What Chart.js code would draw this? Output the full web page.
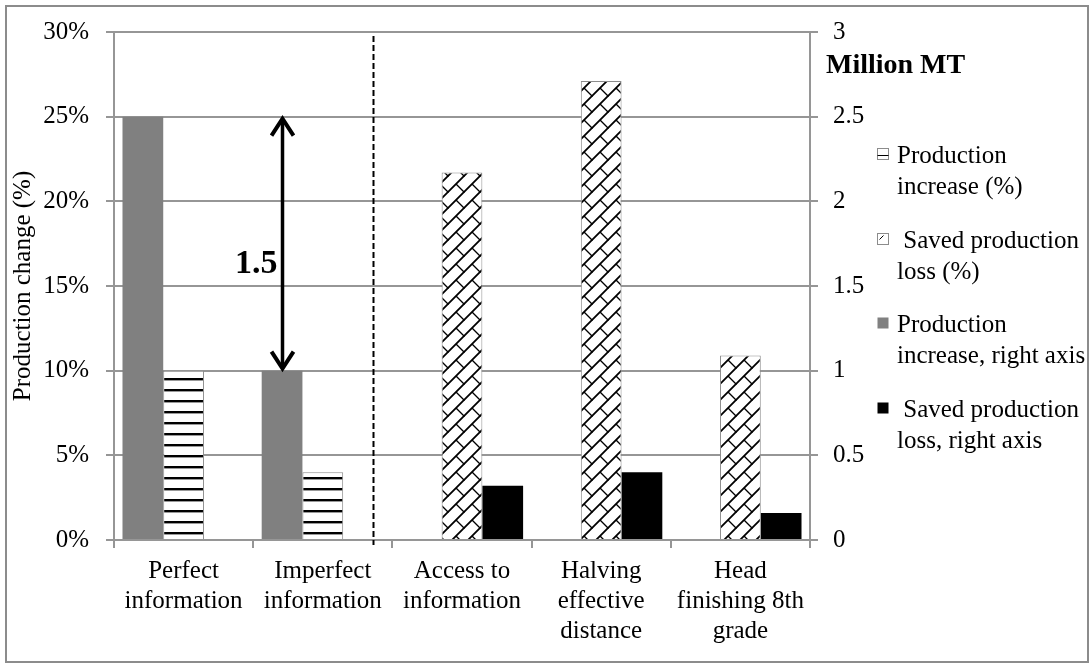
<!DOCTYPE html>
<html>
<head>
<meta charset="utf-8">
<script src="https://cdn.jsdelivr.net/npm/chart.js@4.4.1/dist/chart.umd.min.js"></script>
<style>
  html, body { margin: 0; padding: 0; background: #fff; }
  #wrap { position: relative; width: 1092px; height: 668px; }
</style>
</head>
<body>
<div id="wrap"><canvas id="chart"></canvas></div>
<script>
// categories and series
const categories = [
    ['Perfect', 'information'],
    ['Imperfect', 'information'],
    ['Access to', 'information'],
    ['Halving', 'effective', 'distance'],
    ['Head', 'finishing 8th', 'grade']
];
const prodIncreasePct = [10, 4, null, null, null];        // left axis, %
const savedLossPct = [null, null, 21.7, 27.1, 10.9];      // left axis, %
const prodIncreaseMT = [2.5, 1.0, null, null, null];      // right axis, million MT
const savedLossMT = [null, null, 0.32, 0.40, 0.16];       // right axis, million MT

const seriesNames = ['Production increase (%)', 'Saved production loss (%)', 'Production increase, right axis', 'Saved production loss, right axis'];
const legendLines = [
    ['Production', 'increase (%)'],
    [' Saved production', 'loss (%)'],
    ['Production', 'increase, right axis'],
    [' Saved production', 'loss, right axis']
];
const leftTitle = 'Production change (%)';
const rightTitle = 'Million MT';
const arrowText = '1.5';
const dividerAt = 1.358; // category coordinate of the dashed separator

const serif = "'Liberation Serif', 'Times New Roman', serif";
const gridColor = '#969696';

// horizontal stripes
function stripePattern() {
    const c = document.createElement('canvas');
    c.width = 8; c.height = 11;
    const g = c.getContext('2d');
    g.fillStyle = '#fff'; g.fillRect(0, 0, 8, 11);
    g.fillStyle = '#000'; g.fillRect(0, 4, 8, 2);
    g.fillStyle = '#999'; g.fillRect(0, 6, 8, 1);
    return g.createPattern(c, 'repeat');
}

// diagonal brick
function brickPattern() {
    const s = 16;
    const c = document.createElement('canvas');
    c.width = s; c.height = s;
    const g = c.getContext('2d');
    g.fillStyle = '#fff'; g.fillRect(0, 0, s, s);
    g.strokeStyle = '#000';
    g.lineWidth = 1.8;
    g.beginPath();
    g.moveTo(-2, s + 2); g.lineTo(s + 2, -2);
    g.moveTo(-2, 2); g.lineTo(2, -2);
    g.moveTo(s - 2, s + 2); g.lineTo(s + 2, s - 2);
    g.stroke();
    g.lineWidth = 1.4;
    g.beginPath();
    g.moveTo(s / 2, s / 2); g.lineTo(s + 1, s + 1);
    g.moveTo(-1, -1); g.lineTo(0.5, 0.5);
    g.stroke();
    return g.createPattern(c, 'repeat');
}

const stripes = stripePattern();
const bricks = brickPattern();

const overlay = {
    id: 'overlay',
    beforeDraw(chart) {
        const ctx = chart.ctx;
        ctx.save();
        ctx.fillStyle = '#fff';
        ctx.fillRect(0, 0, chart.width, chart.height);
        ctx.restore();
    },
    afterDraw(chart) {
        const ctx = chart.ctx;
        const x = chart.scales.x, y1 = chart.scales.y1;
        const area = chart.chartArea;
        ctx.save();

        // dashed separator
        const step = x.getPixelForValue(2) - x.getPixelForValue(1);
        const dx = Math.round(x.getPixelForValue(1) + (dividerAt - 1) * step) + 0.5;
        ctx.strokeStyle = '#000';
        ctx.lineWidth = 2;
        ctx.setLineDash([6, 3]);
        ctx.beginPath();
        ctx.moveTo(dx, area.top + 4);
        ctx.lineTo(dx, area.bottom + 5);
        ctx.stroke();
        ctx.setLineDash([]);

        // double arrow between the two grey bars
        const bar = chart.getDatasetMeta(2).data[1];
        const ax = Math.round(bar.x) + 0.5;
        const yTop = y1.getPixelForValue(prodIncreaseMT[0]);
        const yBot = y1.getPixelForValue(prodIncreaseMT[1]);
        ctx.lineWidth = 3.5;
        ctx.beginPath();
        ctx.moveTo(ax, yTop + 3);
        ctx.lineTo(ax, yBot - 3);
        ctx.stroke();
        ctx.lineWidth = 4;
        ctx.lineJoin = 'miter';
        ctx.beginPath();
        ctx.moveTo(ax - 11, yTop + 19);
        ctx.lineTo(ax, yTop + 2);
        ctx.lineTo(ax + 11, yTop + 19);
        ctx.moveTo(ax - 11, yBot - 19);
        ctx.lineTo(ax, yBot - 2);
        ctx.lineTo(ax + 11, yBot - 19);
        ctx.stroke();

        ctx.fillStyle = '#000';
        ctx.font = 'bold 34px ' + serif;
        ctx.textAlign = 'right';
        ctx.textBaseline = 'alphabetic';
        ctx.fillText(arrowText, ax - 5, (yTop + yBot) / 2 + 29);

        // right axis title
        ctx.font = 'bold 28px ' + serif;
        ctx.textAlign = 'left';
        ctx.fillText(rightTitle, y1.left + 16, area.top + 41);

        // legend
        const colors = ['#fff', '#fff', '#808080', '#000'];
        ctx.font = '25px ' + serif;
        legendLines.forEach((lines, i) => {
            const base = 163 + i * 84.5;
            const bx = 877.5, by = Math.round(base - 15) + 0.5;
            ctx.fillStyle = colors[i];
            ctx.fillRect(bx, by, 11, 11);
            if (i < 2) {
                ctx.strokeStyle = '#8c8c8c';
                ctx.lineWidth = 1;
                ctx.strokeRect(bx, by, 11, 11);
                ctx.strokeStyle = '#000';
                ctx.beginPath();
                if (i === 0) {
                    ctx.moveTo(bx, by + 7); ctx.lineTo(bx + 11, by + 7);
                } else {
                    ctx.moveTo(bx + 2, by + 6); ctx.lineTo(bx + 6, by + 2);
                }
                ctx.stroke();
            }
            ctx.fillStyle = '#000';
            ctx.fillText(lines[0], 897, base);
            ctx.fillText(lines[1], 897, base + 31);
        });

        // outer frame
        ctx.strokeStyle = '#8c8c8c';
        ctx.lineWidth = 2;
        ctx.strokeRect(6, 6, 1082, 656);
        ctx.restore();
    }
};

new Chart(document.getElementById('chart'), {
    type: 'bar',
    data: {
        labels: categories,
        datasets: [
            { label: seriesNames[0], data: prodIncreasePct, yAxisID: 'y', stack: 'b', order: 2,
              backgroundColor: stripes, borderColor: '#8c8c8c', borderWidth: 1 },
            { label: seriesNames[1], data: savedLossPct, yAxisID: 'y', stack: 'b', order: 3,
              backgroundColor: bricks, borderColor: '#8c8c8c', borderWidth: 1 },
            { label: seriesNames[2], data: prodIncreaseMT, yAxisID: 'y1', stack: 'a', order: 1,
              backgroundColor: '#808080', borderWidth: 0 },
            { label: seriesNames[3], data: savedLossMT, yAxisID: 'y1', stack: 'c', order: 4,
              backgroundColor: '#000000', borderWidth: 0 }
        ]
    },
    options: {
        responsive: true,
        maintainAspectRatio: false,
        animation: false,
        layout: { padding: { top: 27, left: 0, right: 0, bottom: 0 } },
        datasets: { bar: { categoryPercentage: 0.878, barPercentage: 1 } },
        plugins: { legend: { display: false }, tooltip: { enabled: false } },
        scales: {
            x: {
                stacked: true,
                offset: true,
                grid: { display: true, drawOnChartArea: false, drawTicks: true, tickLength: 8, color: gridColor, lineWidth: 2, offset: true },
                border: { color: gridColor, width: 2 },
                ticks: { font: { family: serif, size: 25 }, color: '#000', padding: 8, maxRotation: 0, autoSkip: false },
                afterFit: s => { s.height = 128; }
            },
            y: {
                position: 'left',
                min: 0, max: 30,
                ticks: { stepSize: 5, callback: v => v + '%', font: { family: serif, size: 25 }, color: '#000', padding: 17 },
                grid: { color: gridColor, lineWidth: 2, tickLength: 8 },
                border: { color: gridColor, width: 2 },
                title: { display: true, text: leftTitle, font: { family: serif, size: 25 }, color: '#000', padding: { top: 8, bottom: 0 } },
                afterFit: s => { s.width = 114; }
            },
            y1: {
                position: 'right',
                min: 0, max: 3,
                ticks: { stepSize: 0.5, callback: v => String(v), font: { family: serif, size: 25 }, color: '#000', padding: 15 },
                grid: { drawOnChartArea: false, color: gridColor, lineWidth: 2, tickLength: 8 },
                border: { color: gridColor, width: 2 },
                afterFit: s => { s.width = 282; }
            }
        }
    },
    plugins: [overlay]
});
</script>
</body>
</html>
